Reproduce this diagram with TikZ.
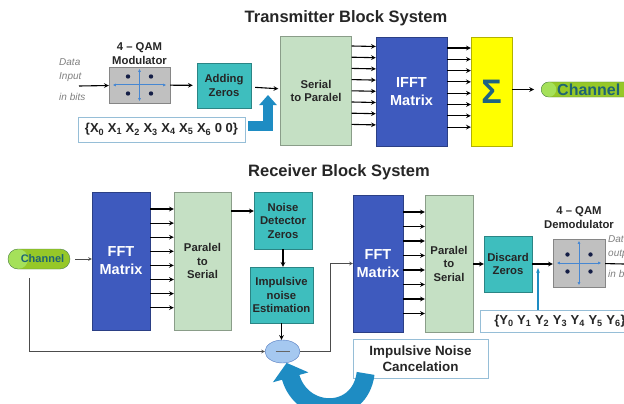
\documentclass[tikz,border=0pt]{standalone}
\usepackage{fontspec}
\setmainfont{Liberation Sans}
\usepackage{xcolor}
\usepackage{tikz}
\usetikzlibrary{arrows.meta,positioning,shapes.geometric}
\definecolor{tealbx}{RGB}{62,190,190}
\definecolor{grnbx}{RGB}{197,224,196}
\definecolor{mtxblue}{RGB}{62,90,190}
\definecolor{sumyel}{RGB}{255,255,0}
\definecolor{qamgray}{RGB}{192,192,192}
\definecolor{chanfg}{RGB}{150,200,40}
\definecolor{chanlt}{RGB}{165,225,90}
\definecolor{chandk}{RGB}{80,130,80}
\definecolor{chantx}{RGB}{30,100,115}
\definecolor{sigtx}{RGB}{30,100,130}
\definecolor{minusbx}{RGB}{165,200,240}
\definecolor{minusdk}{RGB}{80,120,190}
\definecolor{boxline}{RGB}{150,190,215}
\definecolor{fatblue}{RGB}{30,140,195}
\definecolor{qamaxis}{RGB}{70,135,210}
\definecolor{qamdot}{RGB}{20,30,70}

\begin{document}
\begin{tikzpicture}[x=1pt, y=-1pt, >=stealth,
    blk/.style={draw=#1!70!black, fill=#1, inner sep=0pt, align=center, text=black!85,
      font=\bfseries\fontsize{11.3}{13.5}\selectfont},
    mtx/.style={blk=mtxblue, text=white, font=\bfseries\fontsize{14.5}{18}\selectfont},
    txtbox/.style={draw=boxline, fill=white, line width=0.8pt, inner sep=0pt, align=center,
      text=black!85, font=\bfseries\fontsize{13}{16}\selectfont},
    lbl/.style={inner sep=0pt, align=center, text=black!85,
      font=\bfseries\fontsize{11.3}{14}\selectfont},
    note/.style={inner sep=0pt, align=left, text=black!50,
      font=\itshape\fontsize{10}{14}\selectfont},
    title/.style={inner sep=0pt, text=black!85, font=\bfseries\fontsize{16.5}{20}\selectfont},
    chan/.style={draw=chandk, fill=chanfg, rounded corners=#1, inner sep=0pt, text=chantx,
      path picture={\fill[chanlt] ([xshift=#1]path picture bounding box.west) circle (#1);}},
    link/.style={->, line width=1.1pt},
    wire/.style={->, line width=0.6pt, draw=black!70},
    fat/.style={draw=fatblue, line width=#1},
    qamax/.style={draw=qamaxis, line width=1pt, {Latex[length=3pt,width=3pt]}-{Latex[length=3pt,width=3pt]}},
  ]
  \fill[white] (0,0) rectangle (624,404);
  \useasboundingbox (0,0) rectangle (624,404);

  % transmitter
  \node[title] (txtitle) at (346,18) {Transmitter Block System};
  \node[note, anchor=north west] (dinlbl) at (59,58) {Data\\Input\\[7pt]in bits};
  \coordinate (din) at (79,86);
  \node[blk=qamgray, minimum width=61pt, minimum height=36pt] (qam) at (139.5,85) {};
  \node[lbl, above=2pt of qam] (qamlbl) {4 -- QAM\\Modulator};
  \node[blk=tealbx, minimum width=54pt, minimum height=45pt] (addz) at (224,85.5) {Adding\\Zeros};
  \node[txtbox, minimum width=167pt, minimum height=25pt] (xbox) at (161.5,129.5)
    {\{X\textsubscript{0} X\textsubscript{1} X\textsubscript{2} X\textsubscript{3} X\textsubscript{4} X\textsubscript{5} X\textsubscript{6} 0 0\}};
  \coordinate (xin) at (268,95);
  \node[blk=grnbx, minimum width=71pt, minimum height=109pt] (stp) at (316,91) {Serial\\to Paralel};
  \node[mtx, minimum width=71pt, minimum height=109pt] (ifft) at (411.5,91.5) {IFFT\\Matrix};
  \node[blk=sumyel, minimum width=41pt, minimum height=109pt, text=sigtx,
    font=\bfseries\fontsize{34}{34}\selectfont] (sum) at (491.5,91.5) {Σ};
  \node[chan=7.5pt, anchor=west, minimum height=15pt, font=\bfseries\fontsize{16}{16}\selectfont]
    (chtx) at (541,89.5) {\hspace*{16pt}Channel\hspace*{12pt}};

  \draw[link] (din) -- (qam);
  \draw[link, shorten >=4pt] (qam) -- (addz);
  \draw[link, shorten <=4pt, shorten >=2pt] (addz) -- (stp);
  \draw[fat=10pt, -{Triangle[width=17pt,length=10pt]}, shorten <=3pt] ([yshift=4pt]xbox.east) -| (xin);
  \foreach \i in {0,...,7}
    \draw[link] ([yshift={45pt-11.2pt*\i}]stp.east) -- ([yshift={45pt-11.2pt*\i}]ifft.west);
  \foreach \i in {0,...,7}
    \draw[link] ([yshift={43.5pt-11.3pt*\i}]ifft.east) -- ([yshift={43.5pt-11.3pt*\i}]sum.west);
  \draw[link, shorten >=7pt] (sum.east |- chtx) -- (chtx);

  % receiver
  \node[title] (rxtitle) at (339,172) {Receiver Block System};
  \node[chan=10pt, minimum width=62pt, minimum height=20pt, font=\bfseries\fontsize{11}{11}\selectfont]
    (chrx) at (39,259) {\hspace*{7pt}Channel};
  \node[mtx, minimum width=58pt, minimum height=138pt] (fft1) at (121,261) {FFT\\Matrix};
  \node[blk=grnbx, minimum width=57pt, minimum height=138pt] (pts1) at (202.5,261) {Paralel\\to\\Serial};
  \node[blk=tealbx, minimum width=58pt, minimum height=57pt] (ndet) at (283,220.5) {Noise\\Detector\\Zeros};
  \node[blk=tealbx, minimum width=63pt, minimum height=56pt] (nest) at (281.5,295) {Impulsive\\noise\\Estimation};
  \node[ellipse, draw=minusdk, fill=minusbx, minimum width=35pt, minimum height=23pt, inner sep=0pt]
    (minus) at (282.5,351.5) {\color{black!60}\rule{14pt}{1.3pt}};
  \node[mtx, minimum width=50pt, minimum height=137pt] (fft2) at (378,263.5) {FFT\\Matrix};
  \node[blk=grnbx, minimum width=48pt, minimum height=137pt] (pts2) at (449,263.5) {Paralel\\to\\Serial};
  \node[blk=tealbx, minimum width=48pt, minimum height=56pt] (disc) at (508,264) {Discard\\Zeros};
  \node[blk=qamgray, minimum width=52pt, minimum height=48pt] (dem) at (579,263) {};
  \node[lbl, above=10pt of dem] (demlbl) {4 -- QAM\\Demodulator};
  \node[note, anchor=north west] (doutlbl) at (608,235) {Data\\output\\[7pt]in bits};
  \coordinate (dout) at (624,264);
  \node[txtbox, minimum width=160pt, minimum height=22pt] (ybox) at (560,321)
    {\{Y\textsubscript{0} Y\textsubscript{1} Y\textsubscript{2} Y\textsubscript{3} Y\textsubscript{4} Y\textsubscript{5} Y\textsubscript{6}\}};
  \coordinate (yin) at (538,268);
  \node[txtbox, minimum width=135pt, minimum height=39pt, font=\bfseries\fontsize{13.4}{16}\selectfont]
    (cancel) at (420.5,358.5) {Impulsive Noise\\Cancelation};

  \draw[wire, shorten <=5pt] (chrx) -- (chrx -| fft1.west);
  \foreach \i in {0,...,7}
    \draw[link] ([yshift={52pt-14.1pt*\i}]fft1.east) -- ([yshift={52pt-14.1pt*\i}]pts1.west);
  \coordinate (p1) at ([yshift=50pt]pts1.east);
  \draw[link] (p1) -- (p1 -| ndet.west);
  \draw[link] (ndet.south) -- (ndet.south |- nest.north);
  \draw[link] (nest.south) -- (nest.south |- minus.north);
  \draw[wire] ([xshift=-10pt,yshift=-9pt]chrx.south) |- (minus.west);
  \draw[wire] (minus.east) -- ++(30,0) |- (fft2);
  \foreach \i in {0,...,7}
    \draw[link] ([yshift={51.5pt-14.5pt*\i}]fft2.east) -- ([yshift={51.5pt-14.5pt*\i}]pts2.west);
  \draw[link] (pts2.east |- disc) -- (disc);
  \draw[link] (disc.east) -- (disc.east -| dem.west);
  \draw[line width=1.1pt] (dem) -- (dout);
  \draw[draw=fatblue, line width=2pt, -{Stealth[length=5pt]}] ([xshift=-22pt]ybox.north) -- (yin);
  \draw[fat=18pt, -{Triangle[width=36pt,length=15pt]}]
    ([xshift=13pt,yshift=5pt]cancel.south west) .. controls (360,418) and (302,418) .. (minus.-70);

  % constellation marks
  \foreach \q in {qam,dem} {
    \draw[qamax] ([xshift=4pt]\q.west) -- ([xshift=-4pt]\q.east);
    \draw[qamax] ([yshift=-2pt]\q.north) -- ([yshift=2pt]\q.south);
    \foreach \dx/\dy in {-11.5/-8.5, 11.5/-8.5, -11.5/8.5, 11.5/8.5}
      \fill[qamdot] ([shift={(\dx,\dy)}]\q.center) circle (2.2pt);
  }
\end{tikzpicture}
\end{document}
